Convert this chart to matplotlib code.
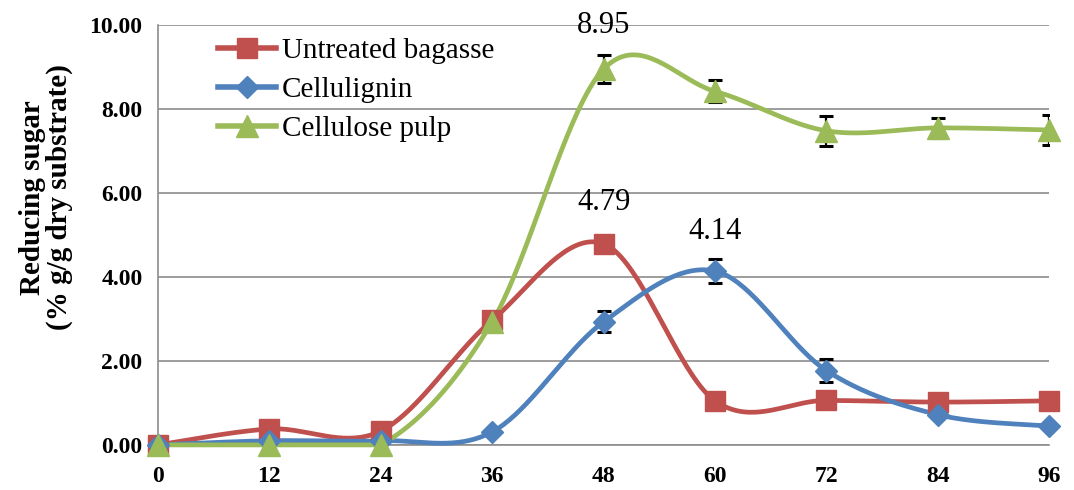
import matplotlib
matplotlib.use("Agg")
import matplotlib.pyplot as plt
import numpy as np

# hours
hours = [0, 12, 24, 36, 48, 60, 72, 84, 96]

untreated = [0.0, 0.38, 0.33, 2.97, 4.79, 1.05, 1.06, 1.02, 1.05]
cellulignin = [0.0, 0.10, 0.10, 0.31, 2.93, 4.14, 1.77, 0.72, 0.45]
cellulose_pulp = [0.0, 0.0, 0.0, 2.93, 8.95, 8.42, 7.48, 7.55, 7.50]

# error bars (only where visible in the figure)
err_cellulignin = [0, 0, 0, 0, 0.25, 0.28, 0.28, 0, 0]
err_pulp = [0, 0, 0, 0, 0.34, 0.26, 0.35, 0.23, 0.35]

red = "#C0504D"
blue = "#4F81BD"
green = "#9BBB59"

plt.rcParams['font.family'] = ['Liberation Serif', 'DejaVu Serif']


def smooth(x, y, n=40):
    # excel-like smoothed line (catmull-rom bezier)
    p = np.column_stack([x, y]).astype(float)
    p = np.vstack([p[0], p, p[-1]])
    out = []
    for i in range(1, len(p) - 2):
        p0, p1, p2, p3 = p[i - 1], p[i], p[i + 1], p[i + 2]
        c1 = p1 + (p2 - p0) / 6
        c2 = p2 - (p3 - p1) / 6
        if p1[1] == p2[1] == 0:  # keep flat runs at zero flat
            c1[1] = c2[1] = 0
        t = np.linspace(0, 1, n)[:, None]
        seg = (1 - t) ** 3 * p1 + 3 * (1 - t) ** 2 * t * c1 + 3 * (1 - t) * t ** 2 * c2 + t ** 3 * p2
        out.append(seg)
    s = np.vstack(out)
    return s[:, 0], s[:, 1]


fig = plt.figure(figsize=(10.74, 4.9), dpi=100)
ax = fig.add_axes([0.147, 0.092, 0.83, 0.857])

series = [
    (untreated, None, red, "s", 15, "Untreated bagasse"),
    (cellulignin, err_cellulignin, blue, "D", 11, "Cellulignin"),
    (cellulose_pulp, err_pulp, green, "^", 16, "Cellulose pulp"),
]

for vals, err, col, mk, ms, lab in series:
    sx, sy = smooth(hours, vals)
    ax.plot(sx, sy, color=col, lw=3.4, clip_on=False, zorder=3)
    if err is not None:
        e = np.array(err)
        m = e > 0
        ax.errorbar(np.array(hours)[m], np.array(vals)[m], yerr=e[m], fmt="none",
                    ecolor="black", elinewidth=1.6, capsize=5, capthick=2.2, zorder=4)
    ax.plot(hours, vals, linestyle="none", marker=mk, ms=ms, color=col,
            clip_on=False, zorder=5)
    ax.plot([], [], color=col, lw=4, marker=mk, ms=ms, label=lab)

ax.text(48, 9.98, "8.95", ha="center", va="center", fontsize=22)
ax.text(48, 5.78, "4.79", ha="center", va="center", fontsize=22)
ax.text(60, 5.08, "4.14", ha="center", va="center", fontsize=22)

ax.set_xlim(0, 96)
ax.set_ylim(0, 10)
ax.set_xticks(hours)
ax.set_yticks(np.arange(0, 10.1, 2))
ax.set_yticklabels(["%.2f" % v for v in np.arange(0, 10.1, 2)])
for lbl in ax.get_xticklabels() + ax.get_yticklabels():
    lbl.set_fontweight("bold")
    lbl.set_fontsize(17)
ax.tick_params(axis="both", length=0)
ax.tick_params(axis="x", pad=15)
ax.tick_params(axis="y", pad=11)

ax.grid(axis="y", color="#8c8c8c", lw=1.2)
ax.set_axisbelow(True)
for s in ["top", "right"]:
    ax.spines[s].set_visible(False)
ax.spines["left"].set_color("#8c8c8c")
ax.spines["bottom"].set_color("#8c8c8c")
ax.spines["left"].set_linewidth(1.2)
ax.spines["bottom"].set_linewidth(1.2)

ax.set_ylabel("Reducing sugar\n(% g/g dry substrate)", fontsize=21, fontweight="bold",
              labelpad=12, linespacing=1.0)
ax.yaxis.label.set_y(0.59)

ax.legend(loc="upper left", bbox_to_anchor=(218 / 1074, 1 - 38 / 490),
          bbox_transform=fig.transFigure, frameon=False, fontsize=21,
          handlelength=2.0, handletextpad=0.2, labelspacing=0.42,
          borderpad=0, borderaxespad=0)

fig.savefig("out.png", dpi=100)
